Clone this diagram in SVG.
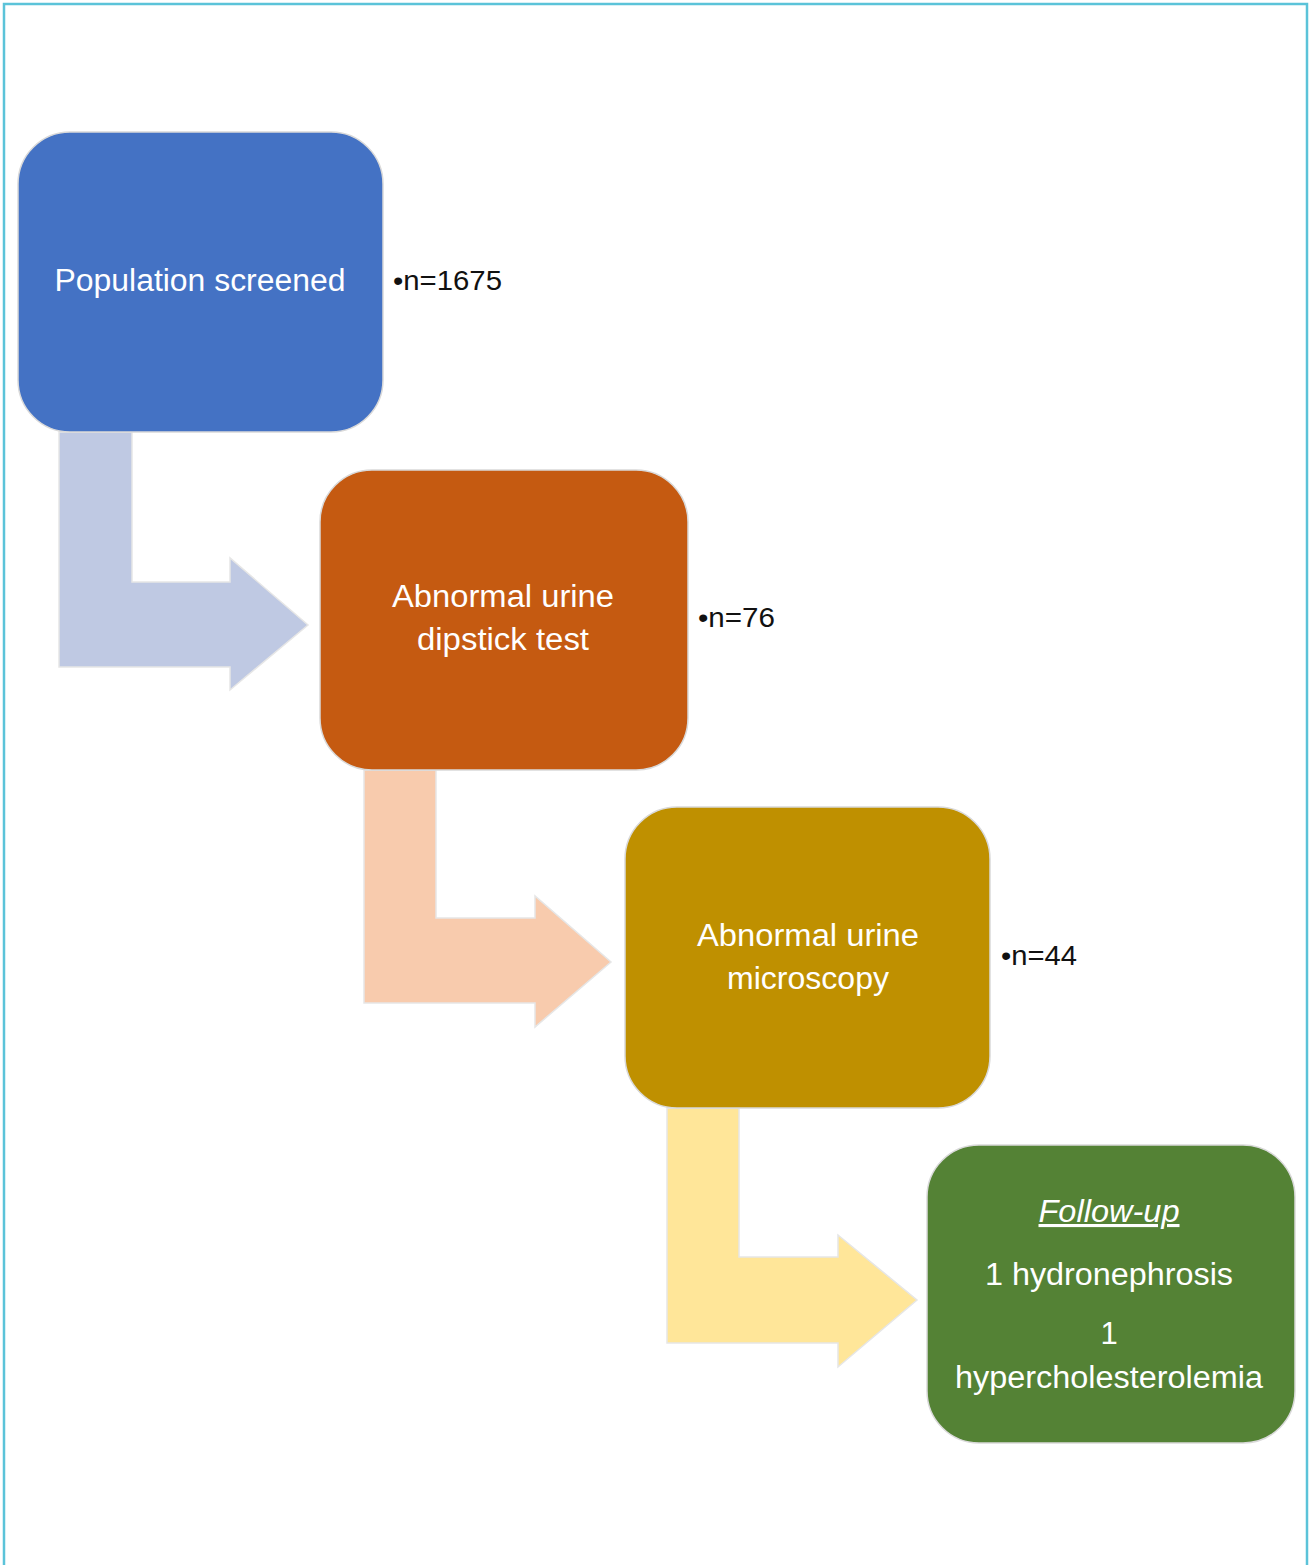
<svg xmlns="http://www.w3.org/2000/svg" width="1314" height="1565" viewBox="0 0 1314 1565">
<style>
.box{stroke:#d9d9d9;stroke-width:1.5}
.arr{stroke:#e6e6e6;stroke-width:1.5}
.lbl{font-family:"Liberation Sans",Arial,sans-serif;font-size:31px;fill:#ffffff;text-anchor:middle}
.n{font-family:"Liberation Sans",Arial,sans-serif;font-size:28px;fill:#111111}
</style>
<rect x="0" y="0" width="1314" height="1565" fill="#ffffff"/>
<rect x="4" y="4" width="1303" height="1580" fill="none" stroke="#5bc3d9" stroke-width="2.5"/>
<g id="connectors">
<path class="arr" fill="#bfc9e3" d="M59 432 H132 V582 H230 V558 L308 625 L230 690 V667 H59 Z"/>
<path class="arr" fill="#f8cbad" d="M364 770 H436 V918 H535 V896 L611 962 L535 1027 V1003 H364 Z"/>
<path class="arr" fill="#ffe699" d="M667 1108 H739 V1257 H838 V1235 L917 1300 L838 1367 V1343 H667 Z"/>
</g>
<g id="node1">
<rect class="box" x="18" y="132" width="365" height="300" rx="52" fill="#4472c4"/>
<text class="lbl" x="200" y="291" textLength="291" lengthAdjust="spacingAndGlyphs">Population screened</text>
<text class="n" x="393" y="290" textLength="109" lengthAdjust="spacingAndGlyphs">•n=1675</text>
</g>
<g id="node2">
<rect class="box" x="320" y="470" width="368" height="300" rx="52" fill="#c55a11"/>
<text class="lbl" x="503" y="607" textLength="222" lengthAdjust="spacingAndGlyphs">Abnormal urine</text>
<text class="lbl" x="503" y="650" textLength="172" lengthAdjust="spacingAndGlyphs">dipstick test</text>
<text class="n" x="698" y="627" textLength="77" lengthAdjust="spacingAndGlyphs">•n=76</text>
</g>
<g id="node3">
<rect class="box" x="625" y="807" width="365" height="301" rx="52" fill="#bf9000"/>
<text class="lbl" x="808" y="946" textLength="222" lengthAdjust="spacingAndGlyphs">Abnormal urine</text>
<text class="lbl" x="808" y="989" textLength="162" lengthAdjust="spacingAndGlyphs">microscopy</text>
<text class="n" x="1001" y="965" textLength="76" lengthAdjust="spacingAndGlyphs">•n=44</text>
</g>
<g id="node4">
<rect class="box" x="927" y="1145" width="368" height="298" rx="52" fill="#548235"/>
<text class="lbl" x="1109" y="1222" font-style="italic" text-decoration="underline" textLength="141" lengthAdjust="spacingAndGlyphs">Follow-up</text>
<text class="lbl" x="1109" y="1285" textLength="248" lengthAdjust="spacingAndGlyphs">1 hydronephrosis</text>
<text class="lbl" x="1109" y="1344">1</text>
<text class="lbl" x="1109" y="1388" textLength="308" lengthAdjust="spacingAndGlyphs">hypercholesterolemia</text>
</g>
</svg>
